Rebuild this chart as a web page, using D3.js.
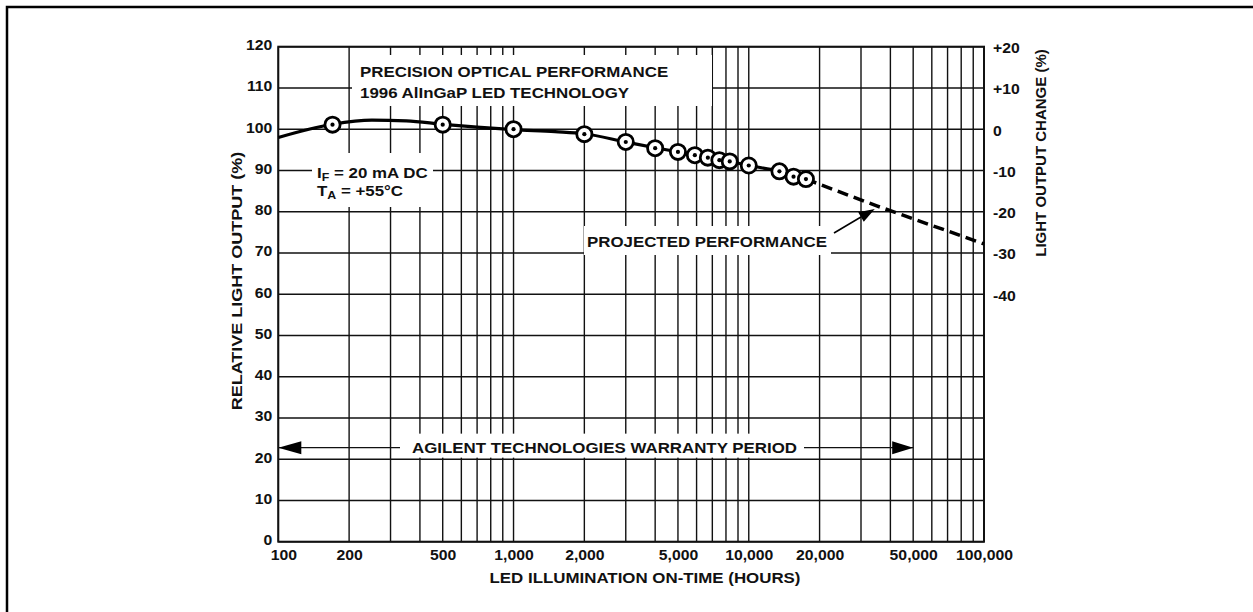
<!DOCTYPE html>
<html>
<head>
<meta charset="utf-8">
<script src="https://cdn.jsdelivr.net/npm/d3@7"></script>
<style>
  html, body { margin: 0; padding: 0; background: #fff; }
  svg { display: block; }
  text { font-family: "Liberation Sans", Arial, Helvetica, sans-serif; font-weight: bold; fill: #111; }
</style>
</head>
<body>
<svg id="chart" width="1253" height="612"></svg>
<script>
// Measured hours vs. relative light output (%)
const measuredHours  = [170, 500, 1000, 2000, 3000, 4000, 5000, 5900, 6700, 7500, 8300, 10000, 13500, 15500, 17500];
const measuredOutput = [101.1, 101.1, 100.0, 98.8, 96.9, 95.4, 94.5, 93.7, 93.1, 92.5, 92.2, 91.2, 89.8, 88.5, 87.9];

// Smoothed trend through the measurements
const trendHours  = [100, 170, 250, 350, 500, 700, 1000, 1500, 2000, 3000, 4000, 5000, 6000, 7000, 8300, 10000, 13500, 17500];
const trendOutput = [98.0, 101.2, 102.2, 102.0, 101.2, 100.5, 99.9, 99.4, 98.9, 96.9, 95.5, 94.5, 93.7, 93.0, 92.2, 91.2, 89.8, 87.9];

// Projection beyond the test data
const projectedHours  = [17500, 35000, 100000];
const projectedOutput = [87.9, 81.4, 72.2];

// Axis ticks
const xTickValues = [100, 200, 500, 1000, 2000, 5000, 10000, 20000, 50000, 100000];
const xTickLabels = ["100", "200", "500", "1,000", "2,000", "5,000", "10,000", "20,000", "50,000", "100,000"];
const yTickValues = [0, 10, 20, 30, 40, 50, 60, 70, 80, 90, 100, 110, 120];
const changeTickValues = [20, 10, 0, -10, -20, -30, -40];
const changeTickLabels = ["+20", "+10", "0", "-10", "-20", "-30", "-40"];

// Warranty period level on the output axis
const warrantyLevel = 22.8;
const warrantyEnd = 50000;

const svg = d3.select("#chart");

const pL = 278.3, pR = 984, pT = 46.7, pB = 541.7;
const x = d3.scaleLog().domain([100, 100000]).range([pL, pR]);
const y = d3.scaleLinear().domain([0, 120]).range([pB, pT]);
const yChange = d3.scaleLinear().domain([-100, 20]).range([pB, pT]);

const fsNote = 15, fsTick = 14, wide = 1.125;

// Widen lettering horizontally (glyphs and spacing together)
function widen(sel, k) {
  sel.each(function () {
    const w = this.getComputedTextLength();
    d3.select(this).attr("textLength", w * k).attr("lengthAdjust", "spacingAndGlyphs");
  });
}

// Outer frame
svg.append("rect")
  .attr("x", 7).attr("y", 7).attr("width", 1400).attr("height", 800)
  .attr("fill", "none").attr("stroke", "#000").attr("stroke-width", 2.5);

// Grid
const grid = svg.append("g").attr("stroke", "#111").attr("stroke-width", 1.4);
grid.selectAll("line.v").data(x.ticks()).join("line").attr("class", "v")
  .attr("x1", d => x(d)).attr("x2", d => x(d))
  .attr("y1", pT).attr("y2", pB);
grid.selectAll("line.h").data(yTickValues).join("line").attr("class", "h")
  .attr("x1", pL).attr("x2", pR)
  .attr("y1", d => y(d)).attr("y2", d => y(d));

// Warranty arrow shaft (masked by its label box below)
const yw = y(warrantyLevel);
svg.append("line")
  .attr("x1", pL).attr("x2", x(warrantyEnd))
  .attr("y1", yw).attr("y2", yw)
  .attr("stroke", "#111").attr("stroke-width", 1.4);

// White label boxes that interrupt the grid
function whiteBox(x0, y0, x1, y1) {
  svg.append("rect").attr("x", x0).attr("y", y0).attr("width", x1 - x0).attr("height", y1 - y0).attr("fill", "#fff");
}
whiteBox(352, 55, 712, 106);
whiteBox(312, 153, 433, 207);
whiteBox(400, yw - 14, 804, yw + 10);
whiteBox(584, 226, 831, 255);

// Title annotation
svg.append("text").attr("x", 360).attr("y", 76.5).attr("font-size", fsNote)
  .text("PRECISION OPTICAL PERFORMANCE").call(widen, wide);
svg.append("text").attr("x", 360).attr("y", 97.5).attr("font-size", fsNote)
  .text("1996 AlInGaP LED TECHNOLOGY").call(widen, wide);

// Test conditions
const c1 = svg.append("text").attr("x", 317).attr("y", 178).attr("font-size", fsNote);
c1.append("tspan").text("I");
c1.append("tspan").attr("font-size", 11).attr("dy", 3).text("F");
c1.append("tspan").attr("dy", -3).text(" = 20 mA DC");
c1.call(widen, wide);
const c2 = svg.append("text").attr("x", 317).attr("y", 196).attr("font-size", fsNote);
c2.append("tspan").text("T");
c2.append("tspan").attr("font-size", 11).attr("dy", 3).text("A");
c2.append("tspan").attr("dy", -3).text(" = +55°C");
c2.call(widen, wide);

// Warranty label
svg.append("text").attr("x", 412).attr("y", yw + 5.5)
  .attr("font-size", fsNote)
  .text("AGILENT TECHNOLOGIES WARRANTY PERIOD").call(widen, wide);

// Warranty arrowheads
svg.append("path")
  .attr("d", `M${pL},${yw} L${pL + 23},${yw - 6.5} L${pL + 23},${yw + 6.5} Z`)
  .attr("fill", "#000");
svg.append("path")
  .attr("d", `M${x(warrantyEnd)},${yw} L${x(warrantyEnd) - 21},${yw - 6.5} L${x(warrantyEnd) - 21},${yw + 6.5} Z`)
  .attr("fill", "#000");

// Projected label
const projText = svg.append("text").attr("y", 247).attr("font-size", fsNote)
  .text("PROJECTED PERFORMANCE").call(widen, wide);
projText.attr("x", 827 - +projText.attr("textLength"));

// Pointer to the projected line
const tipX = x(35000) - 2, tipY = y(81.4) + 3;
const tailX = 834, tailY = 233;
const ang = Math.atan2(tipY - tailY, tipX - tailX);
const hl = 16, hw = 5.5;
const bx = tipX - hl * Math.cos(ang), by = tipY - hl * Math.sin(ang);
svg.append("line").attr("x1", tailX).attr("y1", tailY).attr("x2", bx).attr("y2", by)
  .attr("stroke", "#000").attr("stroke-width", 1.6);
svg.append("path")
  .attr("d", `M${tipX},${tipY} L${bx + hw * Math.sin(ang)},${by - hw * Math.cos(ang)} L${bx - hw * Math.sin(ang)},${by + hw * Math.cos(ang)} Z`)
  .attr("fill", "#000");

// Plot frame
svg.append("rect").attr("x", pL).attr("y", pT).attr("width", pR - pL).attr("height", pB - pT)
  .attr("fill", "none").attr("stroke", "#111").attr("stroke-width", 2);

// Trend line and projection
const line = d3.line().x(d => x(d[0])).y(d => y(d[1])).curve(d3.curveMonotoneX);
svg.append("path").datum(d3.zip(trendHours, trendOutput))
  .attr("d", line).attr("fill", "none").attr("stroke", "#000").attr("stroke-width", 3.2);
svg.append("path").datum(d3.zip(projectedHours, projectedOutput))
  .attr("d", d3.line().x(d => x(d[0])).y(d => y(d[1])))
  .attr("fill", "none").attr("stroke", "#000").attr("stroke-width", 3.5)
  .attr("stroke-dasharray", "11,6");

// Measurement markers
const pts = svg.append("g").selectAll("g").data(d3.zip(measuredHours, measuredOutput)).join("g")
  .attr("transform", d => `translate(${x(d[0])},${y(d[1])})`);
pts.append("circle").attr("r", 7.6).attr("fill", "#fff").attr("stroke", "#000").attr("stroke-width", 2.8);
pts.append("circle").attr("r", 2.1).attr("fill", "#000");

// Axis labels (tick lines are the grid above)
const axisFont = g => g.selectAll("text").attr("font-size", fsTick).attr("fill", "#111")
  .attr("font-family", "'Liberation Sans', Arial, sans-serif").attr("font-weight", "bold")
  .call(widen, wide);

svg.append("g").attr("transform", `translate(${pL},0)`)
  .call(d3.axisLeft(y).tickValues(yTickValues).tickSize(0).tickPadding(6))
  .call(g => g.select(".domain").remove())
  .call(axisFont)
  .call(g => g.selectAll("text").attr("dy", "0.2em"));

svg.append("g").attr("transform", `translate(${pR},0)`)
  .call(d3.axisRight(yChange).tickValues(changeTickValues).tickSize(0).tickPadding(9)
    .tickFormat((d, i) => changeTickLabels[i]))
  .call(g => g.select(".domain").remove())
  .call(axisFont)
  .call(g => g.selectAll("text").attr("dy", "0.42em"));

svg.append("g").attr("transform", `translate(0,${pB})`)
  .call(d3.axisBottom(x).tickValues(xTickValues).tickSize(0).tickPadding(8)
    .tickFormat((d, i) => xTickLabels[i]))
  .call(g => g.select(".domain").remove())
  .call(axisFont)
  .call(g => g.selectAll("text").attr("dx", (d, i) => i === 0 ? 5 : 0));

// Axis titles
svg.append("text").attr("transform", "translate(242,281) rotate(-90)")
  .attr("text-anchor", "middle").attr("font-size", fsNote)
  .text("RELATIVE LIGHT OUTPUT (%)").call(widen, 1.2);
svg.append("text").attr("transform", "translate(1046,153) rotate(-90)")
  .attr("text-anchor", "middle").attr("font-size", fsNote)
  .text("LIGHT OUTPUT CHANGE (%)");
svg.append("text").attr("x", 645).attr("y", 583)
  .attr("text-anchor", "middle").attr("font-size", fsNote)
  .text("LED ILLUMINATION ON-TIME (HOURS)").call(widen, wide);
</script>
</body>
</html>
